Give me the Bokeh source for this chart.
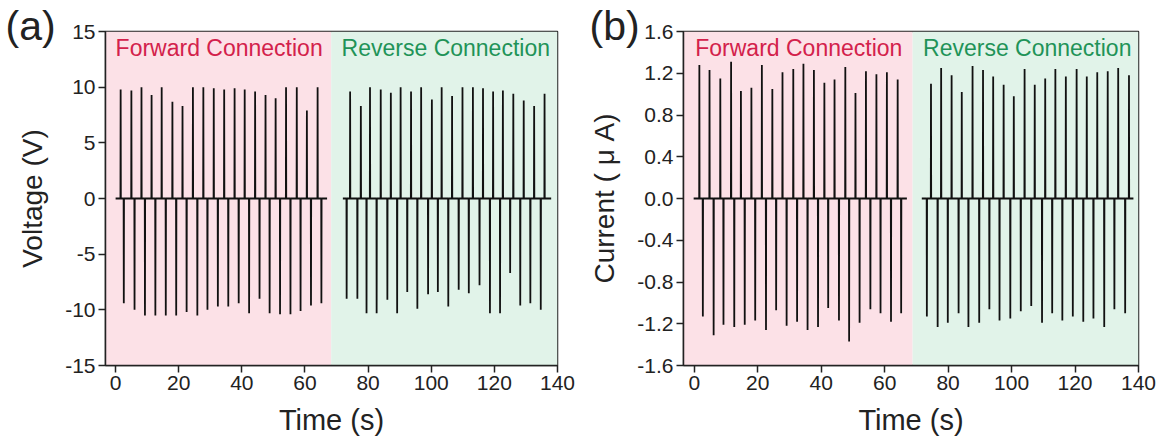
from bokeh.plotting import figure
from bokeh.layouts import row
from bokeh.models import BoxAnnotation, Label, FixedTicker, PrintfTickFormatter, Range1d
from bokeh.embed import file_html
from bokeh.resources import INLINE

# ---------------- data ----------------
regions = ["Forward Connection", "Reverse Connection"]
region_split_a = 68.3
region_split_b = 68.8

x_ticks = [0, 20, 40, 60, 80, 100, 120, 140]
volt_ticks = [-15, -10, -5, 0, 5, 10, 15]
curr_ticks = [-1.6, -1.2, -0.8, -0.4, 0.0, 0.4, 0.8, 1.2, 1.6]

# (a) voltage, forward connection
a_fwd_pos_t = [1.6, 5.0, 8.2, 11.4, 14.6, 18.0, 21.2, 24.5, 27.8, 31.1, 34.4, 37.7, 40.9, 44.2, 47.5, 50.7, 54.0, 57.4, 60.6, 64.0]
a_fwd_pos_v = [9.8, 9.7, 10.0, 9.3, 10.0, 8.7, 8.3, 10.0, 10.0, 9.9, 9.8, 9.9, 9.8, 9.6, 9.3, 9.0, 10.0, 10.0, 7.9, 10.0]
a_fwd_neg_t = [2.6, 6.0, 9.3, 12.6, 15.9, 19.2, 22.5, 25.9, 29.1, 32.4, 35.7, 39.0, 42.3, 45.6, 48.8, 52.1, 55.4, 58.6, 61.9, 65.2]
a_fwd_neg_v = [-9.4, -10.0, -10.5, -10.5, -10.5, -10.5, -10.2, -10.5, -10.0, -9.7, -9.7, -9.4, -10.3, -9.0, -10.3, -10.4, -10.4, -10.1, -9.6, -9.4]
a_fwd_span = [0.0, 67.0]
# (a) voltage, reverse connection
a_rev_neg_t = [73.2, 76.6, 79.5, 82.7, 86.1, 89.2, 92.4, 95.6, 99.0, 102.1, 105.4, 108.7, 111.9, 115.3, 118.6, 121.8, 125.0, 128.2, 131.4, 134.7]
a_rev_neg_v = [-9.0, -9.0, -10.3, -10.3, -9.1, -10.3, -8.4, -9.9, -8.6, -8.4, -9.7, -8.2, -8.5, -7.8, -10.3, -10.3, -6.7, -9.6, -9.4, -10.0]
a_rev_pos_t = [74.3, 77.7, 80.6, 84.0, 87.2, 90.3, 93.6, 96.8, 100.2, 103.3, 106.6, 109.9, 113.2, 116.4, 119.6, 122.7, 126.0, 129.3, 132.6, 135.9]
a_rev_pos_v = [9.6, 8.3, 10.0, 9.8, 9.5, 10.0, 9.6, 10.0, 8.9, 10.0, 9.2, 10.0, 10.0, 9.9, 9.6, 9.7, 9.4, 8.8, 8.3, 9.4]
a_rev_span = [72.0, 138.0]

# (b) current, forward connection
b_fwd_pos_t = [1.6, 4.8, 8.2, 11.6, 14.7, 18.0, 21.3, 24.6, 27.8, 31.2, 34.4, 37.7, 41.0, 44.2, 47.6, 50.8, 54.1, 57.4, 60.7, 64.1]
b_fwd_pos_i = [1.28, 1.23, 1.15, 1.31, 1.03, 1.06, 1.28, 1.05, 1.21, 1.24, 1.29, 1.23, 1.11, 1.14, 1.26, 1.01, 1.22, 1.19, 1.21, 1.14]
b_fwd_neg_t = [2.7, 6.1, 9.2, 12.6, 15.9, 19.2, 22.6, 25.8, 29.1, 32.4, 35.7, 39.0, 42.2, 45.6, 48.8, 52.1, 55.5, 58.7, 62.0, 65.2]
b_fwd_neg_i = [-1.13, -1.31, -1.21, -1.23, -1.21, -1.17, -1.26, -1.07, -1.22, -1.18, -1.26, -1.23, -1.05, -1.17, -1.37, -1.19, -1.06, -1.10, -1.18, -1.10]
b_fwd_span = [-0.2, 67.0]
# (b) current, reverse connection
b_rev_neg_t = [73.3, 76.7, 79.9, 83.3, 86.4, 89.8, 93.0, 96.2, 99.6, 102.9, 106.2, 109.6, 112.8, 116.0, 119.3, 122.6, 125.8, 129.2, 132.4, 135.8]
b_rev_neg_i = [-1.13, -1.23, -1.19, -1.10, -1.23, -1.19, -1.06, -1.17, -1.15, -1.08, -1.03, -1.19, -1.10, -1.17, -1.13, -1.18, -1.15, -1.23, -1.06, -1.10]
b_rev_pos_t = [74.6, 77.8, 81.1, 84.3, 87.7, 91.0, 94.2, 97.5, 100.7, 104.1, 107.3, 110.6, 113.8, 117.1, 120.5, 123.7, 127.0, 130.3, 133.6, 137.0]
b_rev_pos_i = [1.10, 1.25, 1.18, 1.02, 1.27, 1.23, 1.17, 1.09, 0.98, 1.24, 1.09, 1.15, 1.24, 1.17, 1.24, 1.17, 1.21, 1.22, 1.25, 1.18]
b_rev_span = [71.7, 138.4]

PINK = "#fce1e7"
GREEN = "#e1f3e9"
RED_TXT = "#d3214b"
GREEN_TXT = "#1f9358"
FONT = "Liberation Sans"


def trace(span, t1, v1, t2, v2, eps=0.06):
    """Build a spike trace: zero baseline with sharp spikes at given times."""
    pts = sorted(list(zip(t1, v1)) + list(zip(t2, v2)))
    xs, ys = [span[0]], [0.0]
    for t, v in pts:
        xs += [t - eps, t, t + eps]
        ys += [0.0, v, 0.0]
    xs.append(span[1])
    ys.append(0.0)
    return xs, ys


def make_panel(width, border_left, border_right, xr, yr, yticks, ylabel, split, fmt, tag):
    p = figure(width=width, height=439, output_backend="svg", toolbar_location=None,
               x_range=Range1d(*xr), y_range=Range1d(*yr),
               min_border_left=border_left, min_border_right=border_right,
               min_border_top=31, min_border_bottom=74)
    p.grid.visible = False
    p.background_fill_color = "white"
    p.border_fill_color = "white"
    p.outline_line_color = "#222222"
    p.outline_line_width = 1.5

    # panel tag as the figure title, pulled left of the frame and down next to the top tick
    p.title.text = tag
    p.title.text_font = FONT
    p.title.text_font_size = "41px"
    p.title.text_font_style = "normal"
    p.title.text_color = "#222222"
    p.title.align = "left"
    p.title.vertical_align = "bottom"
    p.title.offset = -border_left + 5
    p.title.standoff = -35

    p.add_layout(BoxAnnotation(right=split, fill_color=PINK, fill_alpha=1.0, line_alpha=0, level="underlay"))
    p.add_layout(BoxAnnotation(left=split, fill_color=GREEN, fill_alpha=1.0, line_alpha=0, level="underlay"))

    for ax in (p.xaxis[0], p.yaxis[0]):
        ax.major_tick_out = 7
        ax.major_tick_in = 0
        ax.minor_tick_out = 0
        ax.minor_tick_in = 0
        ax.axis_line_color = "#222222"
        ax.axis_line_width = 1.5
        ax.major_tick_line_color = "#222222"
        ax.major_tick_line_width = 1.5
        ax.major_label_text_font = FONT
        ax.major_label_text_font_size = "21px"
        ax.major_label_text_color = "#222222"
        ax.axis_label_text_font = FONT
        ax.axis_label_text_font_style = "normal"
        ax.axis_label_text_color = "#222222"

    p.xaxis.ticker = FixedTicker(ticks=x_ticks)
    p.xaxis.axis_label = "Time (s)"
    p.xaxis.axis_label_text_font_size = "29px"
    p.xaxis.major_label_standoff = 3
    p.xaxis.axis_label_standoff = 11

    p.yaxis.ticker = FixedTicker(ticks=yticks)
    p.yaxis.formatter = PrintfTickFormatter(format=fmt)
    p.yaxis.axis_label = ylabel
    p.yaxis.axis_label_text_font_size = "28px"
    p.yaxis.major_label_standoff = 3
    p.yaxis.axis_label_standoff = 14
    return p


# ---------------- panel (a) ----------------
pa = make_panel(584, 105, 27, (-3.2, 140), (-15, 15), volt_ticks, "Voltage (V)", region_split_a, "%d", "(a)")
for span, t1, v1, t2, v2 in [(a_fwd_span, a_fwd_pos_t, a_fwd_pos_v, a_fwd_neg_t, a_fwd_neg_v),
                             (a_rev_span, a_rev_neg_t, a_rev_neg_v, a_rev_pos_t, a_rev_pos_v)]:
    xs, ys = trace(span, t1, v1, t2, v2)
    pa.line(xs, ys, line_color="#111111", line_width=1.8)
pa.add_layout(Label(x=0.0, y=13.5, text=regions[0], text_font=FONT, text_font_size="23px",
                    text_color=RED_TXT, text_baseline="middle", text_align="left"))
pa.add_layout(Label(x=71.6, y=13.5, text=regions[1], text_font=FONT, text_font_size="23px",
                    text_color=GREEN_TXT, text_baseline="middle", text_align="left"))

# ---------------- panel (b) ----------------
pb = make_panel(584, 99, 30, (-3.4, 140), (-1.6, 1.6), curr_ticks, "Current ( \u03bc A)", region_split_b, "%.1f", "(b)")
for span, t1, v1, t2, v2 in [(b_fwd_span, b_fwd_pos_t, b_fwd_pos_i, b_fwd_neg_t, b_fwd_neg_i),
                             (b_rev_span, b_rev_neg_t, b_rev_neg_i, b_rev_pos_t, b_rev_pos_i)]:
    xs, ys = trace(span, t1, v1, t2, v2)
    pb.line(xs, ys, line_color="#111111", line_width=1.8)
pb.add_layout(Label(x=0.3, y=1.44, text=regions[0], text_font=FONT, text_font_size="23px",
                    text_color=RED_TXT, text_baseline="middle", text_align="left"))
pb.add_layout(Label(x=72.1, y=1.44, text=regions[1], text_font=FONT, text_font_size="23px",
                    text_color=GREEN_TXT, text_baseline="middle", text_align="left"))

layout = row(pa, pb)
open("out.html", "w").write(file_html(layout, INLINE))
